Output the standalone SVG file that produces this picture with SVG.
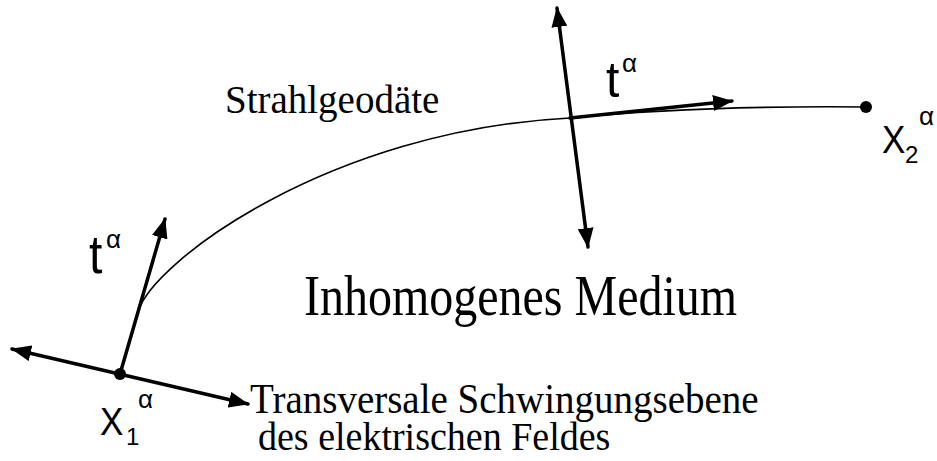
<svg xmlns="http://www.w3.org/2000/svg" width="937" height="461" viewBox="0 0 937 461">
<style>
.serif{font-family:"Liberation Serif","Times New Roman",serif;fill:#000}
.sans{font-family:"Liberation Sans",Arial,sans-serif;fill:#000}
.arrow{stroke:#000;stroke-width:3.5;fill:none;stroke-linecap:round}
.curve{stroke:#000;stroke-width:1.6;fill:none}
</style>
<defs>
<marker id="head" viewBox="0 0 20 16" refX="19" refY="8" markerWidth="20" markerHeight="16" markerUnits="userSpaceOnUse" orient="auto-start-reverse">
<path d="M0,0 L20,8 L0,16 Z" fill="#000"/>
</marker>
</defs>
<rect width="937" height="461" fill="#fff"/>
<g id="connectors">
<path class="curve" d="M138,312 C152,262 330,130 570,118 C650,110 760,106 866,107"/>
<line class="arrow" x1="12" y1="349" x2="248" y2="404" marker-start="url(#head)" marker-end="url(#head)"/>
<line class="arrow" x1="120" y1="374" x2="165" y2="219" marker-end="url(#head)"/>
<line class="arrow" x1="557" y1="8" x2="588" y2="247" marker-start="url(#head)" marker-end="url(#head)"/>
<line class="arrow" x1="570" y1="118" x2="732" y2="101" marker-end="url(#head)"/>
</g>
<g id="point-x1">
<circle cx="120" cy="374" r="6" fill="#000"/>
<text class="sans" transform="translate(100,435) scale(1,1.12)" font-size="35">X</text>
<text class="sans" x="126" y="445" font-size="24">1</text>
<text class="sans" x="138" y="408" font-size="26">α</text>
</g>
<g id="point-x2">
<circle cx="866" cy="107" r="6" fill="#000"/>
<text class="sans" transform="translate(882,153) scale(1,1.12)" font-size="35">X</text>
<text class="sans" x="905" y="163" font-size="24">2</text>
<text class="sans" x="919" y="125" font-size="26">α</text>
</g>
<g id="tangent-start-label">
<text class="sans" transform="translate(89,273) scale(1,1.1)" font-size="48">t</text>
<text class="sans" x="106" y="248" font-size="26">α</text>
</g>
<g id="tangent-top-label">
<text class="sans" transform="translate(606,97) scale(1,1.05)" font-size="48">t</text>
<text class="sans" x="622" y="72" font-size="26">α</text>
</g>
<g id="label-strahlgeodaete">
<text class="serif" transform="translate(225,113) scale(1,1.05)" font-size="39">Strahlgeodäte</text>
</g>
<g id="label-medium">
<text class="serif" transform="translate(304,315) scale(1,1.2)" font-size="48">Inhomogenes Medium</text>
</g>
<g id="label-ebene">
<text class="serif" transform="translate(250,413) scale(1,1.07)" font-size="39">Transversale Schwingungsebene</text>
<text class="serif" transform="translate(258,450) scale(1,1.07)" font-size="38">des elektrischen Feldes</text>
</g>
</svg>
